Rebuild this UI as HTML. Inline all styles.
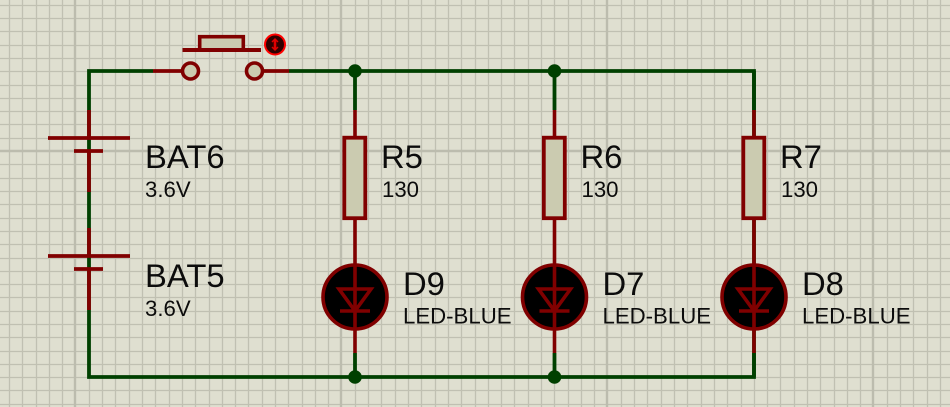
<!DOCTYPE html>
<html><head><meta charset="utf-8"><style>
html,body{margin:0;padding:0;background:#dfdfd0}
svg{display:block}
text{font-family:"Liberation Sans",sans-serif;fill:#0c0c0c}
.a{font-size:32.8px}.b{font-size:22.2px}
</style></head><body>
<svg width="950" height="407" viewBox="0 0 950 407" xmlns="http://www.w3.org/2000/svg">
<rect width="950" height="407" fill="#dfdfd0"/>
<!-- grid -->
<path stroke="#c0c0b2" stroke-width="1.3" fill="none" d="M9.5 0V407M22.5 0V407M36.5 0V407M49.5 0V407M62.5 0V407M89.5 0V407M102.5 0V407M115.5 0V407M129.5 0V407M142.5 0V407M155.5 0V407M169.5 0V407M182.5 0V407M195.5 0V407M209.5 0V407M222.5 0V407M235.5 0V407M248.5 0V407M262.5 0V407M275.5 0V407M288.5 0V407M302.5 0V407M315.5 0V407M328.5 0V407M355.5 0V407M368.5 0V407M381.5 0V407M395.5 0V407M408.5 0V407M421.5 0V407M435.5 0V407M448.5 0V407M461.5 0V407M475.5 0V407M488.5 0V407M501.5 0V407M514.5 0V407M528.5 0V407M541.5 0V407M554.5 0V407M568.5 0V407M581.5 0V407M594.5 0V407M621.5 0V407M634.5 0V407M647.5 0V407M661.5 0V407M674.5 0V407M687.5 0V407M701.5 0V407M714.5 0V407M727.5 0V407M741.5 0V407M754.5 0V407M767.5 0V407M780.5 0V407M794.5 0V407M807.5 0V407M820.5 0V407M834.5 0V407M847.5 0V407M860.5 0V407M887.5 0V407M900.5 0V407M913.5 0V407M927.5 0V407M940.5 0V407
M0 5.500H950M0 18.500H950M0 31.500H950M0 45.500H950M0 58.500H950M0 71.500H950M0 85.500H950M0 98.500H950M0 111.500H950M0 124.500H950M0 138.500H950M0 164.500H950M0 178.500H950M0 191.500H950M0 204.500H950M0 218.500H950M0 231.500H950M0 244.500H950M0 258.500H950M0 271.500H950M0 284.500H950M0 297.500H950M0 311.500H950M0 324.500H950M0 337.500H950M0 351.500H950M0 364.500H950M0 377.500H950M0 390.500H950M0 404.500H950"/>
<path d="M75 0V407M341 0V407M607 0V407M873 0V407M0 151H950" stroke="#bcbcae" stroke-width="2.4" fill="none"/>

<!-- wires -->
<g stroke="#004000" stroke-width="3.800" fill="none">
<path d="M153 71H89V377H754V71H289"/>
<path d="M355 71V110M355 353V377M554.500 71V110M554.500 353V377M754 71V110M754 353V377"/>
</g>
<circle cx="355" cy="71" r="6.800" fill="#004000"/>
<circle cx="554.500" cy="71" r="6.800" fill="#004000"/>
<circle cx="355" cy="377" r="6.800" fill="#004000"/>
<circle cx="554.500" cy="377" r="6.800" fill="#004000"/>

<!-- switch -->
<g stroke="#800000" fill="none">
<path d="M153 71H182M263 71H289" stroke-width="3.800"/>
<circle cx="190.500" cy="71" r="8" stroke-width="3.600" fill="#cbcbb0"/>
<circle cx="254.500" cy="71" r="8" stroke-width="3.600" fill="#cbcbb0"/>
<rect x="199.700" y="36.700" width="43.600" height="13.300" stroke-width="3.600" fill="#cbcbb0"/>
<path d="M182.500 50H261" stroke-width="4"/>
</g>
<circle cx="275" cy="44.500" r="10" fill="#300000" stroke="#ff0000" stroke-width="2"/>
<path d="M275 39.500V49.500" stroke="#e00000" stroke-width="2.600" fill="none"/>
<path d="M272 42L275 39L278 42M272 47L275 50L278 47" stroke="#e00000" stroke-width="1.500" fill="none"/>

<!-- batteries -->
<g stroke="#800000" stroke-width="3.800" fill="none">
<path d="M89 110V138M48 138H130M74 151H103M89 151V192"/>
<path d="M89 228V256M48 256H130M74 269H103M89 269V310"/>
</g>
<text class="a" x="145" y="168">BAT6</text>
<text class="b" x="145" y="197">3.6V</text>
<text class="a" x="145" y="287">BAT5</text>
<text class="b" x="145" y="316">3.6V</text>

<!-- R5 / D9 -->
<g>
<path d="M355 110V138M355 218V353" stroke="#800000" stroke-width="3.600" fill="none"/>
<rect x="344.300" y="137.700" width="21" height="80.500" fill="#cbcbb0" stroke="#800000" stroke-width="3.800"/>
<circle cx="355" cy="297" r="32" fill="#000" stroke="#800000" stroke-width="3.600"/>
<path d="M355 264V330M339 289H371L355 311ZM340 311H370" fill="none" stroke="#800000" stroke-width="3.600"/>
</g>
<text class="a" x="381" y="168">R5</text>
<text class="b" x="382" y="197">130</text>
<text class="a" x="403" y="295">D9</text>
<text class="b" x="403" y="323.500">LED-BLUE</text>

<!-- R6 / D7 -->
<g transform="translate(199.500 0)">
<path d="M355 110V138M355 218V353" stroke="#800000" stroke-width="3.600" fill="none"/>
<rect x="344.300" y="137.700" width="21" height="80.500" fill="#cbcbb0" stroke="#800000" stroke-width="3.800"/>
<circle cx="355" cy="297" r="32" fill="#000" stroke="#800000" stroke-width="3.600"/>
<path d="M355 264V330M339 289H371L355 311ZM340 311H370" fill="none" stroke="#800000" stroke-width="3.600"/>
</g>
<text class="a" x="580.500" y="168">R6</text>
<text class="b" x="581.500" y="197">130</text>
<text class="a" x="602.500" y="295">D7</text>
<text class="b" x="602.500" y="323.500">LED-BLUE</text>

<!-- R7 / D8 -->
<g transform="translate(399 0)">
<path d="M355 110V138M355 218V353" stroke="#800000" stroke-width="3.600" fill="none"/>
<rect x="344.300" y="137.700" width="21" height="80.500" fill="#cbcbb0" stroke="#800000" stroke-width="3.800"/>
<circle cx="355" cy="297" r="32" fill="#000" stroke="#800000" stroke-width="3.600"/>
<path d="M355 264V330M339 289H371L355 311ZM340 311H370" fill="none" stroke="#800000" stroke-width="3.600"/>
</g>
<text class="a" x="780" y="168">R7</text>
<text class="b" x="781" y="197">130</text>
<text class="a" x="802" y="295">D8</text>
<text class="b" x="802" y="323.500">LED-BLUE</text>
</svg>
</body></html>
